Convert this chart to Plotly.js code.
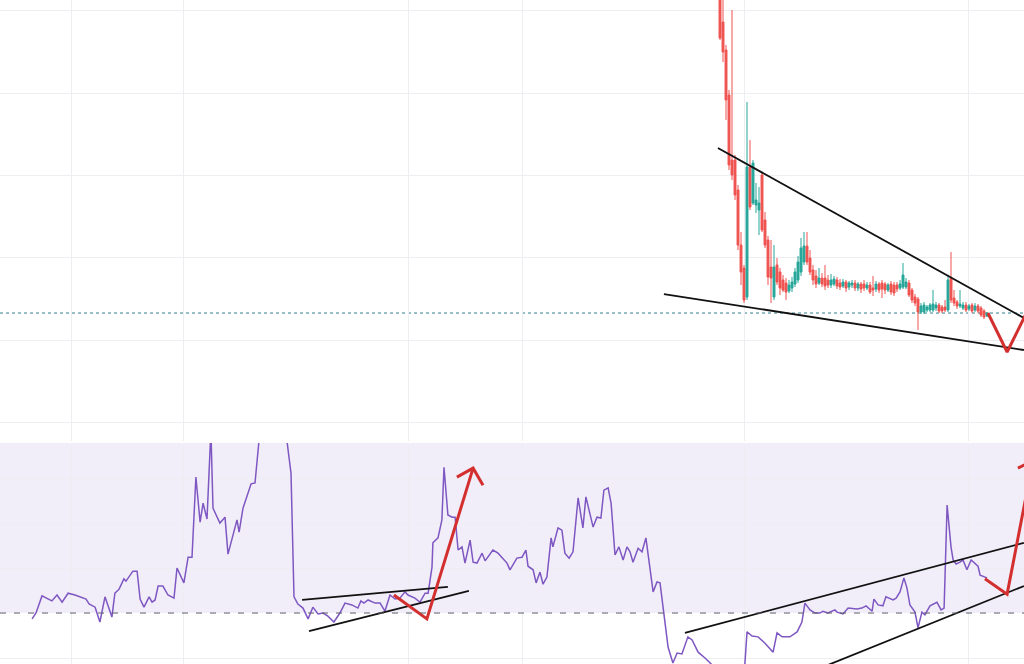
<!DOCTYPE html>
<html>
<head>
<meta charset="utf-8">
<script src="https://cdn.plot.ly/plotly-3.0.1.min.js"></script>
<style>html,body{margin:0;padding:0;background:#fff;}#chart{width:1024px;height:664px;}</style>
</head>
<body>
<div id="chart"></div>
<script>
// ---- price candles (bar index, OHLC) ----
const barIdx = [240,241,242,243,244,245,246,247,248,249,250,251,252,253,254,255,256,257,
 258,259,260,261,262,263,264,265,266,267,268,269,270,271,272,273,274,275,276,277,278,279,280,281,282,283,284,285,286,287,288,289,290,291,292,293,294,295,296,297,298,
 299,300,301,302,303,304,305,306,307,308,309,310,311,312,313,314,315,316,317,318,319,320,321,322,323,324,325,326,327,328,329];
const openP = [5.10,4.78,4.50,4.05,3.40,3.40,3.10,2.55,2.32,2.03,3.33,2.97,2.95,2.90,3.25,2.80,2.60,2.33,
 2.03,2.35,2.28,2.20,2.17,2.09,2.12,2.16,2.20,2.28,2.38,2.54,2.42,2.30,2.24,2.17,2.22,2.22,2.20,2.15,2.16,2.20,2.17,2.14,2.18,2.13,2.15,2.17,2.12,2.16,2.16,2.12,2.15,2.12,2.11,2.16,2.17,2.16,2.10,2.16,2.15,
 2.15,2.12,2.13,2.13,2.17,2.10,2.03,2.01,1.88,1.88,1.90,1.90,1.90,1.92,1.95,1.93,1.93,1.90,2.22,2.02,1.98,1.94,1.92,1.95,1.91,1.95,1.90,1.94,1.92,1.89,1.84];
const highP = [5.20,5.00,4.55,4.10,4.90,3.45,3.15,2.68,2.35,3.98,3.60,3.40,3.17,3.13,3.28,2.88,2.64,2.60,
 2.55,2.42,2.32,2.25,2.22,2.20,2.23,2.32,2.44,2.62,2.68,2.68,2.50,2.35,2.30,2.32,2.27,2.35,2.25,2.26,2.24,2.23,2.21,2.21,2.20,2.19,2.20,2.20,2.18,2.18,2.20,2.18,2.18,2.24,2.19,2.18,2.20,2.18,2.17,2.19,2.18,
 2.18,2.20,2.37,2.22,2.20,2.12,2.06,2.03,1.97,1.98,1.95,1.97,2.10,1.98,1.97,1.95,2.00,2.25,2.48,2.10,2.00,2.10,1.98,1.98,1.96,1.97,1.97,1.96,1.94,1.91,1.88];
const lowP = [4.60,4.38,3.80,3.30,3.20,3.00,2.50,2.15,1.97,2.00,2.90,2.95,2.87,2.65,2.68,2.52,2.15,1.97,
 2.00,2.15,2.05,2.08,2.00,2.07,2.08,2.13,2.17,2.24,2.35,2.35,2.25,2.15,2.12,2.15,2.13,2.10,2.12,2.12,2.14,2.11,2.10,2.12,2.08,2.10,2.12,2.09,2.09,2.07,2.09,2.10,2.06,2.04,2.08,2.07,2.02,2.06,2.08,2.05,2.04,
 2.08,2.10,2.11,2.11,2.03,1.97,1.94,1.70,1.86,1.86,1.88,1.88,1.88,1.89,1.87,1.87,1.88,1.88,1.97,1.94,1.91,1.92,1.90,1.88,1.89,1.87,1.88,1.87,1.83,1.81,1.83];
const closeP = [4.62,4.48,4.00,3.35,3.25,3.05,2.55,2.28,2.00,3.33,2.93,3.37,3.00,2.97,2.70,2.55,2.23,2.22,
 2.33,2.18,2.12,2.10,2.08,2.15,2.18,2.28,2.38,2.52,2.54,2.38,2.28,2.20,2.16,2.22,2.16,2.14,2.15,2.20,2.21,2.14,2.13,2.18,2.12,2.17,2.17,2.12,2.16,2.11,2.12,2.15,2.08,2.10,2.16,2.10,2.11,2.10,2.15,2.08,2.07,
 2.11,2.16,2.25,2.18,2.05,2.00,1.97,1.88,1.94,1.95,1.93,1.95,1.96,1.95,1.89,1.89,1.90,2.20,2.00,1.97,1.94,1.96,1.95,1.90,1.94,1.89,1.94,1.89,1.85,1.83,1.87];
const lastPrice = 1.87;

// ---- RSI ----
const rsiX = [10.7,12,14,17.3,19,20.7,22.7,25,28.7,29.7,31.7,33.3,35,37.3,38.3,39.7,41.3,42,44.3,45.7,46.7,48,49.7,50.7,51.7,52.7,54.3,56,58,59,61.3,62.7,64,65.3,66.7,67.7,69,70.3,71,73.3,75,76,79,79.7,81,83.7,85,87,90,93,95.7,97,98,99.3,101,102.7,104.3,106,107.7,109.3,111.3,113.3,115,117.3,119.3,120.3,121.3,122.7,125,126.7,128.3,130,131.7,133.3,135,136,138.3,140,141.7,142.7,144,144.3,146,147.3,148,149.3,150.7,151.7,152.7,154,155,156.7,157.7,159,160.7,161.7,164.3,166,169,170,172.3,174,175.3,176,177.7,178.7,180,181,182.3,183.7,184.3,186,187.3,188.3,189.7,191,192.7,194.3,195.3,197.7,199,200.3,201.3,202.7,203.7,205,206.3,207.7,209,210,211,212.7,214,215.3,217.7,219,220,222.7,224.3,225.7,227.3,229.3,230.7,232.7,235,237,242.7,248.3,249,250.7,252.7,255,257.7,259,260.7,263.3,265.7,267.3,268.3,270,271.7,273.3,274.3,276,278.3,279,281,282.7,285.7,287.3,288.7,290.7,291.3,292.7,294.3,295.3,297.7,298.7,300,301.3,302.3,303.3,305,306,307.3,308.3,310,312.3,313.7,314.7,315.7,317,317.7,318.7,320,321,322.3,323.7,325,326,326.7,327.7,329];
const rsiY = [28.7,30.0,33.8,32.7,34.0,32.4,34.4,34.0,33.1,32.0,31.3,28.0,33.6,29.1,34.4,35.3,37.6,37.1,39.3,39.3,33.1,31.3,33.6,32.4,32.9,36.0,36.0,34.0,33.3,40.0,36.7,42.4,42.4,60.2,50.2,54.4,50.9,70.5,53.3,50.0,51.3,43.1,50.7,48.0,53.3,58.7,58.9,73,80,77,68,61.1,33.6,32.0,31.1,28.7,31.3,29.8,30.0,29.3,28.0,30.0,32.2,31.8,31.1,32.7,32.2,32.9,32.2,32.2,30.4,34.0,33.1,33.3,34.7,34.0,33.3,32.4,34.4,34.4,40.2,45.6,46.7,50.7,62.4,51.8,51.3,51.3,44.0,44.7,41.1,46.2,41.3,41.1,43.3,41.6,44.0,43.3,41.1,39.6,42.2,42.4,44.0,40.4,39.6,36.7,39.1,36.4,38.0,46.7,44.7,48.9,48.4,43.3,42.2,43.6,55.6,48.9,55.8,49.1,51.3,51.1,57.3,57.8,54.4,42.9,44.7,41.8,44.7,43.6,41.3,44.4,43.6,46.7,34.7,36.9,36.7,22.4,18.9,21.1,20.9,24.7,24.0,21.3,20.0,18.7,15.0,18.7,25.8,24.9,24.7,23.3,21.3,25.6,24.7,24.7,25.8,28.0,32.2,30.7,30.0,30.0,30.4,30.0,30.7,30.2,29.8,31.1,30.9,31.1,31.6,30.4,33.1,31.8,31.6,33.6,32.9,33.3,34.7,37.8,35.6,31.8,30.2,26.7,30.2,29.6,31.6,32.4,30.7,31.1,54.0,44.7,41.8,40.9,41.3,41.8,39.6,41.8,41.1,40.4,38.4,38.2,37.8];
const rsiUpper = 70, rsiLower = 30;

// ---- drawings (trendlines & arrows, data coords) ----
const priceTopLineX = [239.3, 341.3], priceTopLineY = [3.52, 1.82];
const priceLowLineX = [221.3, 341.3], priceLowLineY = [2.06, 1.50];
const priceVX = [329.3, 335.7, 343.3], priceVY = [1.87, 1.48, 1.94];
const rsiWedgeAX = [100.7, 149.3], rsiWedgeAY = [32.9, 35.8];
const rsiWedgeBX = [103, 156.3], rsiWedgeBY = [26.0, 34.9];
const rsiArrow1X = [131.3, 142.3, 157.7], rsiArrow1Y = [34.0, 28.7, 62.2];
const rsiHead1X = [152.3, 157.7, 161], rsiHead1Y = [60.2, 62.2, 58.4];
const rsiChanAX = [228.3, 341.3], rsiChanAY = [25.6, 45.6];
const rsiChanBX = [271.7, 341.3], rsiChanBY = [17.3, 36.0];
const rsiArrow2X = [328.3, 335.7, 344.3], rsiArrow2Y = [37.6, 34.2, 63.8];
const rsiHead2X = [339.3, 344.3], rsiHead2Y = [62.2, 63.8];

// ---- grid positions ----
const timeGrid = [23.67, 61.33, 136, 174, 248, 322.67];
const priceGrid = [0.78, 1.60, 2.43, 3.25, 4.07, 4.90];
const rsiGrid = [20, 40, 50, 60];

const RED = '#d32f2f', BLACK = '#111111';
function seg(x, y, color, w, ya) {
  return {type:'scatter', mode:'lines', x:x, y:y, xaxis: ya==='y2'?'x2':'x', yaxis: ya,
          line:{color:color, width:w}, hoverinfo:'skip', showlegend:false};
}

const traces = [
  {type:'candlestick', x:barIdx, open:openP, high:highP, low:lowP, close:closeP,
   xaxis:'x', yaxis:'y', whiskerwidth:0,
   increasing:{line:{color:'#26a69a', width:1}, fillcolor:'#26a69a'},
   decreasing:{line:{color:'#ef5350', width:1}, fillcolor:'#ef5350'},
   showlegend:false, hoverinfo:'skip'},
  seg(priceTopLineX, priceTopLineY, BLACK, 1.8, 'y'),
  seg(priceLowLineX, priceLowLineY, BLACK, 1.8, 'y'),
  seg(priceVX, priceVY, RED, 3, 'y'),
  {type:'scatter', mode:'lines', x:rsiX, y:rsiY, xaxis:'x2', yaxis:'y2',
   line:{color:'#7e57c2', width:1.5}, hoverinfo:'skip', showlegend:false},
  seg(rsiWedgeAX, rsiWedgeAY, BLACK, 1.8, 'y2'),
  seg(rsiWedgeBX, rsiWedgeBY, BLACK, 1.8, 'y2'),
  seg(rsiArrow1X, rsiArrow1Y, RED, 3, 'y2'),
  seg(rsiHead1X, rsiHead1Y, RED, 3, 'y2'),
  seg(rsiChanAX, rsiChanAY, BLACK, 1.8, 'y2'),
  seg(rsiChanBX, rsiChanBY, BLACK, 1.8, 'y2'),
  seg(rsiArrow2X, rsiArrow2Y, RED, 3, 'y2'),
  seg(rsiHead2X, rsiHead2Y, RED, 3, 'y2')
];

const gridCol = '#eceef2';
const axX = {range:[0, 341.33], tickvals:timeGrid, showticklabels:false, ticks:'', showgrid:true,
             gridcolor:gridCol, gridwidth:1, zeroline:false, showline:false, fixedrange:true,
             rangeslider:{visible:false}};
const layout = {
  width:1024, height:664, autosize:false,
  margin:{l:0, r:0, t:0, b:0, pad:0},
  paper_bgcolor:'#ffffff', plot_bgcolor:'rgba(0,0,0,0)',
  showlegend:false, hovermode:false, boxgap:0.2, boxgroupgap:0.2,
  xaxis: Object.assign({}, axX, {anchor:'y'}),
  xaxis2: Object.assign({}, axX, {anchor:'y2', matches:'x'}),
  yaxis: {domain:[0.3358, 1], range:[0.59, 5.0], tickvals:priceGrid, showticklabels:false, ticks:'',
          gridcolor:gridCol, zeroline:false, showline:false, fixedrange:true},
  yaxis2: {domain:[0, 0.3328], range:[18.67, 67.78], tickvals:rsiGrid, showticklabels:false, ticks:'',
           gridcolor:gridCol, zeroline:false, showline:false, fixedrange:true},
  shapes: [
    {type:'rect', xref:'x2 domain', yref:'y2', x0:0, x1:1, y0:rsiLower, y1:67.78,
     fillcolor:'rgba(126,87,194,0.1)', line:{width:0}, layer:'below'},
    {type:'line', xref:'x2 domain', yref:'y2', x0:0, x1:1, y0:rsiLower, y1:rsiLower,
     line:{color:'#5d606b', width:1, dash:'6px,8px'}, layer:'above'},
    {type:'line', xref:'x domain', yref:'y', x0:0, x1:1, y0:lastPrice, y1:lastPrice,
     line:{color:'#2f7f8c', width:1, dash:'dot'}, layer:'below'}
  ]
};

Plotly.newPlot('chart', traces, layout, {staticPlot:true, displayModeBar:false});
</script>
</body>
</html>
